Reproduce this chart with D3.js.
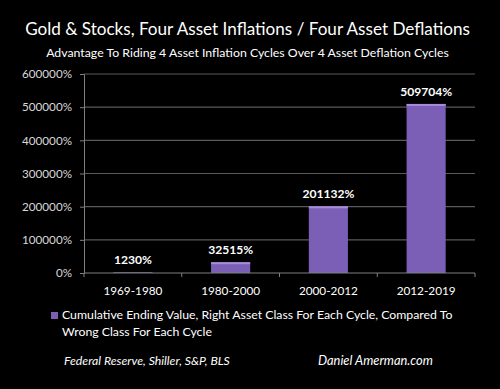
<!DOCTYPE html>
<html><head><meta charset="utf-8">
<script src="https://cdn.jsdelivr.net/npm/d3@7"></script>
<style>html,body{margin:0;padding:0;background:#000;}svg{display:block;}</style>
</head><body>
<script>
const categories = ["1969-1980","1980-2000","2000-2012","2012-2019"];
const values = [1230, 32515, 201132, 509704];
const valueLabels = ["1230%","32515%","201132%","509704%"];
const yTicks = [0,100000,200000,300000,400000,500000,600000];
const title = "Gold & Stocks, Four Asset Inflations / Four Asset Deflations";
const subtitle = "Advantage To Riding 4 Asset Inflation Cycles Over 4 Asset Deflation Cycles";
const legendLines = ["Cumulative Ending Value, Right Asset Class For Each Cycle, Compared To","Wrong Class For Each Cycle"];
const sourceText = "Federal Reserve, Shiller, S&P, BLS";
const authorText = "Daniel Amerman.com";

(function(){
const W=500,H=389;
const font = "Lato, 'Open Sans', sans-serif";
const svg = d3.select("body").append("svg").attr("width",W).attr("height",H).style("background","#000");

// scale font size of a text so its width matches target
function fit(sel, target){
  const s = +sel.attr("font-size");
  const w = sel.node().getComputedTextLength();
  if (w>0) sel.attr("font-size", s*target/w);
  return sel;
}

const pL=84,pR=475,pT=74,pB=273;
const x = d3.scaleBand().domain(categories).range([pL,pR]).paddingInner(0.6).paddingOuter(0.3);
const y = d3.scaleLinear().domain([0,600000]).range([pB,pT]);

fit(svg.append("text").attr("x",247.5).attr("y",35).attr("text-anchor","middle")
  .attr("fill","#fff").attr("font-family",font).attr("font-size",19.5).text(title), 445);
fit(svg.append("text").attr("x",247.5).attr("y",57).attr("text-anchor","middle")
  .attr("fill","#fff").attr("font-family",font).attr("font-size",14).text(subtitle), 403);

svg.append("g").selectAll("line").data(yTicks.filter(d=>d>0)).join("line")
  .attr("x1",pL).attr("x2",pR).attr("y1",d=>y(d)).attr("y2",d=>y(d))
  .attr("stroke","#595959").attr("stroke-width",1.2);

const yAxis = svg.append("g").attr("transform",`translate(${pL},0)`)
  .call(d3.axisLeft(y).tickValues(yTicks).tickFormat(d=>d+"%").tickSize(4).tickPadding(8));
yAxis.select(".domain").attr("stroke","#7f7f7f");
yAxis.selectAll(".tick line").attr("stroke","#7f7f7f");
yAxis.selectAll("text").attr("fill","#d9d9d9").attr("font-family",font).attr("font-size",13);
const refW = yAxis.select(".tick:last-of-type text").node().getComputedTextLength();
yAxis.selectAll("text").attr("font-size",13*50/refW);

svg.append("g").selectAll("rect").data(values).join("rect")
  .attr("x",(d,i)=>x(categories[i])).attr("width",x.bandwidth())
  .attr("y",d=>y(d)).attr("height",d=>pB-y(d))
  .attr("fill","#7b5fb6");
svg.append("g").selectAll("rect").data(values).join("rect")
  .attr("x",(d,i)=>x(categories[i])).attr("width",x.bandwidth())
  .attr("y",d=>y(d)).attr("height",d=>Math.min(2,pB-y(d)))
  .attr("fill","#a88cd6");

const xg = svg.append("g").attr("transform",`translate(0,${pB})`);
xg.append("line").attr("x1",pL).attr("x2",pR).attr("stroke","#7f7f7f");
const boundaries = [pL, ...categories.slice(1).map(c=>x(c)-x.step()*x.paddingInner()/2), pR];
xg.selectAll("line.t").data(boundaries).join("line").attr("class","t")
  .attr("x1",d=>d).attr("x2",d=>d).attr("y1",0).attr("y2",4).attr("stroke","#7f7f7f");
const xl = svg.append("g").selectAll("text").data(categories).join("text")
  .attr("x",d=>x(d)+x.bandwidth()/2).attr("y",295).attr("text-anchor","middle")
  .attr("fill","#fff").attr("font-family",font).attr("font-size",13).text(d=>d);
const xw = xl.node().getComputedTextLength();
xl.attr("font-size",13*59/xw);

const vl = svg.append("g").selectAll("text").data(values).join("text")
  .attr("x",(d,i)=>x(categories[i])+x.bandwidth()/2).attr("y",d=>Math.min(y(d)-8,264))
  .attr("text-anchor","middle").attr("fill","#fff").attr("font-weight","bold")
  .attr("font-family",font).attr("font-size",13).text((d,i)=>valueLabels[i]);
const vw = vl.filter((d,i)=>i===3).node().getComputedTextLength();
vl.attr("font-size",13*52/vw);

svg.append("rect").attr("x",51).attr("y",312).attr("width",7).attr("height",7).attr("fill","#7b5fb6");
const l1 = fit(svg.append("text").attr("x",62).attr("y",319).attr("fill","#fff").attr("font-family",font).attr("font-size",13.5).text(legendLines[0]), 391);
svg.append("text").attr("x",62).attr("y",336).attr("fill","#fff").attr("font-family",font).attr("font-size",l1.attr("font-size")).text(legendLines[1]);

fit(svg.append("text").attr("x",64).attr("y",365).attr("fill","#fff").attr("font-style","italic").attr("font-family",font).attr("font-size",13.5).text(sourceText), 166);
fit(svg.append("text").attr("x",318).attr("y",365).attr("fill","#fff").attr("font-style","italic").attr("font-family",font).attr("font-size",13.5).text(authorText), 115);
})();
</script>
</body></html>
